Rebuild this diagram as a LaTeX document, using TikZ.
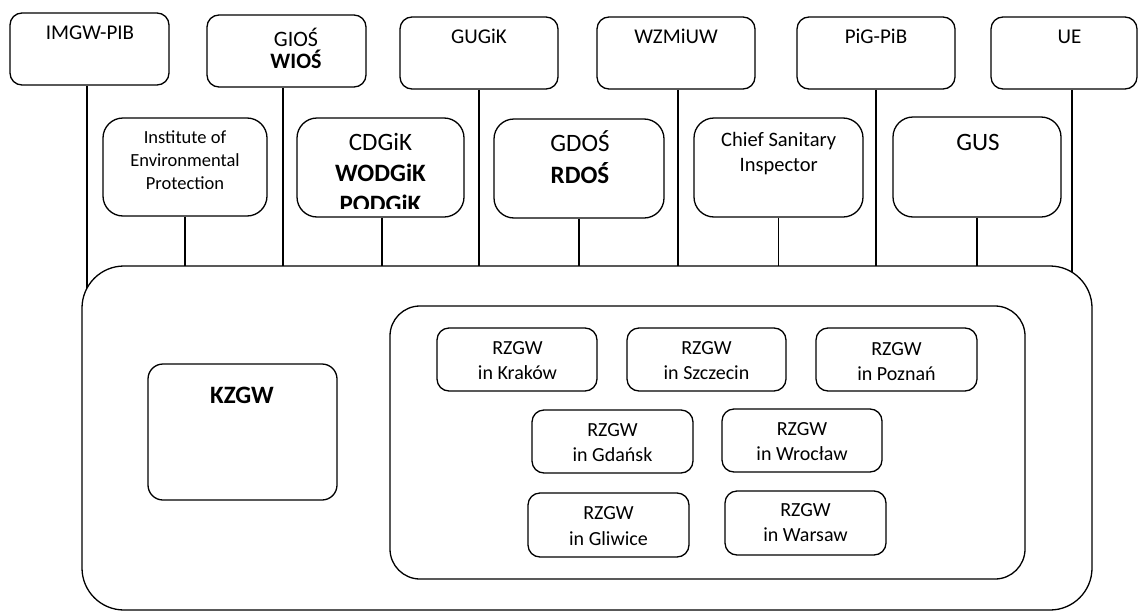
\documentclass[tikz,border=0pt]{standalone}
\usepackage{fontspec}
\setmainfont{Carlito}
\usetikzlibrary{backgrounds}
\newcommand{\mlines}[2]{\vtop{\baselineskip=#1\lineskiplimit=-\maxdimen\lineskip=0pt\halign{\hfil##\hfil\cr#2\crcr}}}
\tikzset{
  box/.style={draw=black, line width=1.3pt, fill=white, inner sep=0pt, rounded corners=#1},
  box/.default=12pt,
  txt/.style={inner sep=0pt, anchor=base, text=black},
  conn/.style={draw=black, line width=1.3pt},
  f21/.style={font=\fontsize{21}{25}\selectfont},
  f20/.style={font=\fontsize{20}{24}\selectfont},
  f25/.style={font=\fontsize{25}{30}\selectfont},
}
\begin{document}
\begin{tikzpicture}[x=1pt,y=1pt]
\useasboundingbox (0,0) rectangle (1139,-613);

% top row
\node[box, minimum width=159pt, minimum height=72pt] (imgw) at (89.5,-49) {};
\node[box, minimum width=159pt, minimum height=72pt] (gios) at (286.5,-51) {};
\node[box, minimum width=158pt, minimum height=72pt] (gugik) at (479,-53) {};
\node[box, minimum width=158pt, minimum height=72pt] (wzmiuw) at (676,-53) {};
\node[box, minimum width=158pt, minimum height=72pt] (pig) at (876,-53) {};
\node[box, minimum width=146pt, minimum height=72pt] (ue) at (1064,-53) {};

\node[txt, f21] (imgw-t) at (90,-39.3) {IMGW-PIB};
\node[txt, font=\fontsize{22}{22}\selectfont] (gios-t) at (296,-46) {\mlines{22pt}{GIOŚ\cr\bfseries WIOŚ}};
\node[txt, f21] (gugik-t) at (479,-43.3) {GUGiK};
\node[txt, f21] (wzmiuw-t) at (676,-43.3) {WZMiUW};
\node[txt, f21] (pig-t) at (876,-43.3) {PiG-PiB};
\node[txt, f21] (ue-t) at (1069.5,-43.3) {UE};

% second row
\node[box=20pt, minimum width=164pt, minimum height=98pt] (inst) at (185,-167) {};
\node[box=20pt, minimum width=167pt, minimum height=99pt] (cdgik) at (380.5,-167.5) {};
\node[box=20pt, minimum width=170pt, minimum height=99pt] (gdos) at (579,-168.5) {};
\node[box=20pt, minimum width=169pt, minimum height=99pt] (chief) at (778.5,-167.5) {};
\node[box=20pt, minimum width=168pt, minimum height=100pt] (gus) at (977,-167) {};

\node[txt, font=\fontsize{18.5}{23}\selectfont] (inst-t) at (185,-143.3) {\mlines{23pt}{Institute of\cr Environmental\cr Protection}};
\begin{scope}
  \clip (297,-118) rectangle (464,-208);
  \node[txt, f25] (cdgik-t) at (380.5,-150.7) {\mlines{31pt}{CDGiK\cr\bfseries WODGiK\cr\bfseries PODGiK}};
\end{scope}
\node[txt, f25] (gdos-t) at (580,-151.7) {\mlines{31.5pt}{GDOŚ\cr\bfseries RDOŚ}};
\node[txt, font=\fontsize{20.5}{25}\selectfont] (chief-t) at (778.7,-146.7) {\mlines{25pt}{Chief Sanitary\cr Inspector}};
\node[txt, f25] (gus-t) at (978,-150.7) {GUS};

% main container
\node[box=42pt, minimum width=1010pt, minimum height=344pt] (main) at (587,-438) {};
\node[box=30pt, minimum width=635pt, minimum height=273pt] (inner) at (707.5,-442.5) {};
\node[box=15pt, minimum width=189pt, minimum height=136pt] (kzgw) at (242.5,-432) {};
\node[txt, font=\fontsize{25}{30}\selectfont\bfseries] (kzgw-t) at (242,-403.3) {KZGW};

% RZGW boxes
\node[box, minimum width=160pt, minimum height=63pt] (krakow) at (517,-359.5) {};
\node[box, minimum width=159pt, minimum height=63pt] (szczecin) at (706.5,-359.5) {};
\node[box, minimum width=161pt, minimum height=63pt] (poznan) at (896.5,-359.5) {};
\node[box, minimum width=161pt, minimum height=63pt] (gdansk) at (612.5,-441.5) {};
\node[box, minimum width=160pt, minimum height=63pt] (wroclaw) at (802,-440.5) {};
\node[box, minimum width=161pt, minimum height=64pt] (gliwice) at (608.5,-525) {};
\node[box, minimum width=161pt, minimum height=64pt] (warsaw) at (805.5,-523) {};

\node[txt, f20] (krakow-t) at (517.5,-354) {\mlines{25pt}{RZGW\cr in Kraków}};
\node[txt, f20] (szczecin-t) at (706.5,-354) {\mlines{25pt}{RZGW\cr in Szczecin}};
\node[txt, f20] (poznan-t) at (896.5,-355) {\mlines{25pt}{RZGW\cr in Poznań}};
\node[txt, f20] (gdansk-t) at (612.5,-436) {\mlines{25.5pt}{RZGW\cr in Gdańsk}};
\node[txt, f20] (wroclaw-t) at (802,-435) {\mlines{25pt}{RZGW\cr in Wrocław}};
\node[txt, f20] (gliwice-t) at (608.5,-519) {\mlines{26pt}{RZGW\cr in Gliwice}};
\node[txt, f20] (warsaw-t) at (805.5,-516.7) {\mlines{25pt}{RZGW\cr in Warsaw}};

% connectors (behind the white-filled container)
\begin{pgfonlayer}{background}
\draw[conn] ([xshift=-2.5pt]imgw.south) -- ([xshift=-2.5pt]imgw.south |- main.center);
\draw[conn] ([xshift=-3.5pt]gios.south) -- ([xshift=-3.5pt]gios.south |- main.center);
\draw[conn] (gugik.south) -- (gugik.south |- main.center);
\draw[conn] ([xshift=2pt]wzmiuw.south) -- ([xshift=2pt]wzmiuw.south |- main.center);
\draw[conn] (pig.south) -- (pig.south |- main.center);
\draw[conn] ([xshift=8pt]ue.south) -- ([xshift=8pt]ue.south |- main.center);
\draw[conn] (inst.south) -- (inst.south |- main.center);
\draw[conn] ([xshift=1.5pt]cdgik.south) -- ([xshift=1.5pt]cdgik.south |- main.center);
\draw[conn] (gdos.south) -- (gdos.south |- main.center);
\draw[conn] (chief.south) -- (chief.south |- main.center);
\draw[conn] (gus.south) -- (gus.south |- main.center);
\end{pgfonlayer}
\end{tikzpicture}
\end{document}
